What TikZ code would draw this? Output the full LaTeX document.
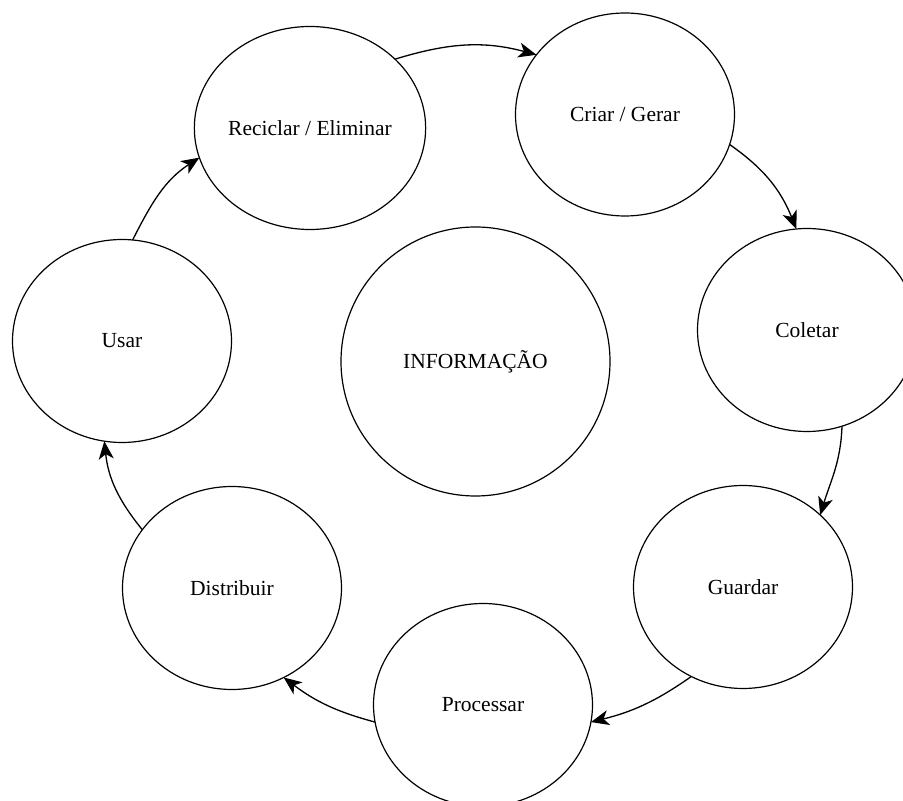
\documentclass[tikz,border=0pt]{standalone}
\usepackage{fontspec}
\setmainfont{Liberation Serif}
\usetikzlibrary{shapes.geometric,arrows.meta}
\tikzset{
  stage/.style={ellipse, draw, line width=1.2pt, minimum width=219pt, minimum height=203pt, inner sep=0pt, outer sep=0pt, font=\fontsize{21.5}{24}\selectfont},
  core/.style={circle, draw, line width=1.2pt, minimum size=269pt, inner sep=0pt, outer sep=0pt, font=\fontsize{21.5}{24}\selectfont},
  flow/.style={line width=1.3pt, -{Stealth[length=18pt, width=15pt, inset=5pt]}}
}
\begin{document}
\begin{tikzpicture}[x=1pt, y=1pt]
\useasboundingbox (0,0) rectangle (903,801);
\clip (0,0) rectangle (903,801);
\node[stage] (rec) at (310,673) {Reciclar / Eliminar};
\node[stage] (cri) at (625,686.5) {Criar / Gerar};
\node[stage] (col) at (807,471) {Coletar};
\node[stage] (gua) at (743,214) {Guardar};
\node[stage] (pro) at (483,96) {Processar};
\node[stage] (dis) at (232,213) {Distribuir};
\node[stage] (usa) at (122,460) {Usar};
\node[core] (info) at (475.5,439.5) {INFORMAÇÃO};
\draw[flow] (rec.39) to[out=17, in=165] (cri.146);
\draw[flow] (cri.-16) to[out=-35, in=112] (col.96);
\draw[flow] (col.-70) to[out=-92, in=73] (gua.43);
\draw[flow] (gua.240) to[out=215, in=14] (pro.-9);
\draw[flow] (pro.189) to[out=165, in=-37] (dis.-60);
\draw[flow] (dis.147) to[out=129, in=-84] (usa.260);
\draw[flow] (usa.84) to[out=63, in=213] (rec.195);
\end{tikzpicture}
\end{document}
